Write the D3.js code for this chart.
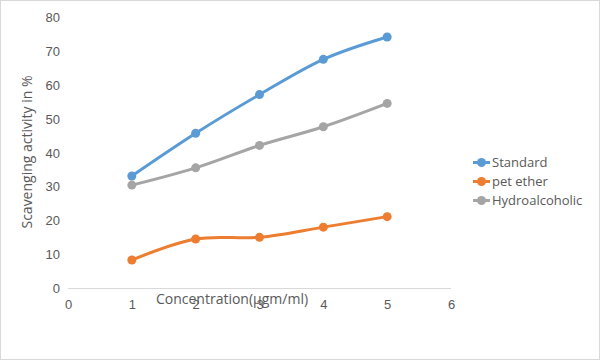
<!DOCTYPE html>
<html>
<head>
<meta charset="utf-8">
<script src="https://cdnjs.cloudflare.com/ajax/libs/d3/7.8.5/d3.min.js"></script>
<style>
  body { margin: 0; background: #fff; }
  svg { font-family: "Open Sans", "Noto Sans", sans-serif; }
  .tick text { fill: #595959; font-size: 13px; }
  .axis path, .axis line { stroke: none; }
  .title { fill: #595959; font-size: 14px; }
  .legend text { fill: #595959; font-size: 13px; }
</style>
</head>
<body>
<div id="chart"></div>
<script>
var concentration = [1, 2, 3, 4, 5];
var standard = [33.2, 45.8, 57.2, 67.6, 74.2];
var petEther = [8.4, 14.6, 15.1, 18.1, 21.2];
var hydroalcoholic = [30.5, 35.6, 42.2, 47.7, 54.6];
var xTicks = [0, 1, 2, 3, 4, 5, 6];
var yTicks = [0, 10, 20, 30, 40, 50, 60, 70, 80];

var series = [
  {name: 'Standard', values: standard, color: '#5B9BD5'},
  {name: 'pet ether', values: petEther, color: '#ED7D31'},
  {name: 'Hydroalcoholic', values: hydroalcoholic, color: '#A5A5A5'}
];

var W = 600, H = 360;
var svg = d3.select('#chart').append('svg').attr('width', W).attr('height', H);

svg.append('rect').attr('x', 0.5).attr('y', 0.5).attr('width', W - 1).attr('height', H - 1)
  .attr('fill', '#fff').attr('stroke', '#D9D9D9');

var x = d3.scaleLinear().domain([0, 6]).range([68, 451]);
var y = d3.scaleLinear().domain([0, 80]).range([288.5, 17.3]);

// y tick labels
svg.append('g').attr('class', 'axis')
  .attr('transform', 'translate(68,0)')
  .call(d3.axisLeft(y).tickValues(yTicks).tickFormat(d3.format('d')).tickSize(0).tickPadding(8))
  .select('.domain').remove();

// x axis line
svg.append('line')
  .attr('x1', x(0)).attr('x2', x(6))
  .attr('y1', y(0)).attr('y2', y(0))
  .attr('stroke', '#D9D9D9').attr('stroke-width', 1);

svg.append('g').attr('class', 'axis')
  .attr('transform', 'translate(0,' + y(0) + ')')
  .call(d3.axisBottom(x).tickValues(xTicks).tickFormat(d3.format('d')).tickSize(0).tickPadding(11))
  .select('.domain').remove();

var line = d3.line()
  .x(function(d, i) { return x(concentration[i]); })
  .y(function(d) { return y(d); })
  .curve(d3.curveCatmullRom.alpha(0));

series.forEach(function(s) {
  svg.append('path').attr('d', line(s.values))
    .attr('fill', 'none').attr('stroke', s.color).attr('stroke-width', 3)
    .attr('stroke-linecap', 'round');
  svg.selectAll(null).data(s.values).enter().append('circle')
    .attr('cx', function(d, i) { return x(concentration[i]); })
    .attr('cy', function(d) { return y(d); })
    .attr('r', 4.5).attr('fill', s.color);
});

// axis titles
svg.append('text').attr('class', 'title')
  .attr('transform', 'translate(32,152) rotate(-90)')
  .attr('text-anchor', 'middle')
  .text('Scavenging activity in %');

svg.append('text').attr('class', 'title')
  .attr('x', 232).attr('y', 304)
  .attr('text-anchor', 'middle')
  .text('Concentration(µgm/ml)');

// legend
var legend = svg.append('g').attr('class', 'legend');
series.forEach(function(s, i) {
  var ly = 162.5 + i * 19;
  legend.append('line').attr('x1', 473).attr('x2', 490).attr('y1', ly).attr('y2', ly)
    .attr('stroke', s.color).attr('stroke-width', 3);
  legend.append('circle').attr('cx', 481.5).attr('cy', ly).attr('r', 4.5).attr('fill', s.color);
  legend.append('text').attr('x', 492).attr('y', ly).attr('dy', '0.35em').text(s.name);
});
</script>
</body>
</html>
